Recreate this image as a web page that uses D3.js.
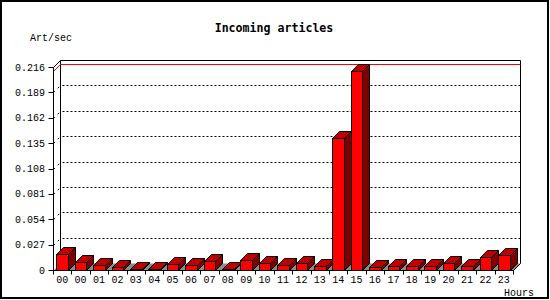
<!DOCTYPE html>
<html>
<head>
<meta charset="utf-8">
<script src="https://cdn.jsdelivr.net/npm/d3@7"></script>
<style>
  body { margin: 0; background: #fff; }
  text { font-family: "Liberation Mono", "DejaVu Sans Mono", monospace; fill: #000; }
</style>
</head>
<body>
<svg id="chart" width="550" height="300"></svg>
<script>
const svg = d3.select("#chart");

// hours as printed under the bars (the first hour shows up twice)
const hours = ["00", "00", "01", "02", "03", "04", "05", "06", "07", "08", "09", "10",
  "11", "12", "13", "14", "15", "16", "17", "18", "19", "20", "21", "22", "23"];
// articles per second
const rates = [0.0167, 0.0082, 0.0050, 0.0030, 0.0014, 0.0014, 0.0064, 0.0050, 0.0092,
  0.0014, 0.0106, 0.0071, 0.0050, 0.0071, 0.0043, 0.140, 0.2115, 0.0028, 0.0043,
  0.0043, 0.0043, 0.0074, 0.0043, 0.0135, 0.0156];
const yTicks = [0, 0.027, 0.054, 0.081, 0.108, 0.135, 0.162, 0.189, 0.216];
const yTickLabels = ["0", "0.027", "0.054", "0.081", "0.108", "0.135", "0.162", "0.189", "0.216"];

const DEPTH = 7;       // 3d offset, x to the right and y up
const LEFT = 53;
const RIGHT = 513;
const BOTTOM = 270;
const TOP = 67;

const idx = hours.map((h, i) => i);
const slot = d3.scaleBand().domain(idx).range([LEFT, RIGHT]);
const bar = d3.scaleBand().domain(idx).range([LEFT, RIGHT])
  .paddingInner(0.38).paddingOuter(0.19);
const y = d3.scaleLinear().domain([0, d3.max(yTicks)]).range([BOTTOM, TOP]);

// snap to the pixel grid so 1px lines stay sharp
const px = v => Math.round(v) + 0.5;
const B = px(BOTTOM), L = px(LEFT), R = px(RIGHT);

// outer border
svg.append("rect")
  .attr("x", 1).attr("y", 1).attr("width", 547).attr("height", 297)
  .attr("fill", "#fff").attr("stroke", "#000").attr("stroke-width", 2);

svg.append("text")
  .attr("x", 274).attr("y", 32)
  .attr("text-anchor", "middle")
  .style("font-family", "DejaVu Sans Mono")
  .style("font-size", "11.6px").style("font-weight", "bold")
  .text("Incoming articles");

svg.append("text")
  .attr("x", 30).attr("y", 41)
  .style("font-size", "10px")
  .text("Art/sec");

// back wall
const backTop = px(y(d3.max(yTicks))) - DEPTH;
const backBottom = B - DEPTH;
svg.append("path")
  .attr("d", `M${L + DEPTH},${backBottom}V${backTop}H${R + DEPTH}V${backBottom}`)
  .attr("fill", "none").attr("stroke", "#000");

// dotted grid on the back wall, and the side wall diagonals
const grid = yTicks.slice(1, -1);
svg.append("g").selectAll("line").data(grid).join("line")
  .attr("x1", L + DEPTH + 2).attr("x2", R + DEPTH)
  .attr("y1", d => px(y(d)) - DEPTH)
  .attr("y2", d => px(y(d)) - DEPTH)
  .attr("stroke", "#000").attr("stroke-dasharray", "2,2");
svg.append("g").selectAll("line").data(grid).join("line")
  .attr("x1", L).attr("x2", L + DEPTH)
  .attr("y1", d => px(y(d))).attr("y2", d => px(y(d)) - DEPTH)
  .attr("stroke", "#000").attr("stroke-dasharray", "2,4");

// floor
svg.append("path")
  .attr("d", `M${L},${B}L${L + DEPTH},${backBottom}H${R + DEPTH}L${R},${B}Z`)
  .attr("fill", "#8c8c8c");
svg.append("line")
  .attr("x1", R).attr("y1", B).attr("x2", R + DEPTH).attr("y2", backBottom)
  .attr("stroke", "#000");

// red line at the maximum
const yMax = px(y(d3.max(rates)));
svg.append("path")
  .attr("d", `M${L},${yMax}L${L + DEPTH},${yMax - DEPTH}H${R + DEPTH}`)
  .attr("fill", "none").attr("stroke", "#f00");

// bars
const bx0 = i => px(bar(i));
const bx1 = i => px(bar(i) + bar.bandwidth());
const by = i => px(y(rates[i]));
const bars = svg.append("g").selectAll("g").data(idx).join("g");
bars.append("path")
  .attr("d", i => `M${bx0(i)},${by(i)}L${bx0(i) + DEPTH},${by(i) - DEPTH}H${bx1(i) + DEPTH}L${bx1(i)},${by(i)}Z`)
  .attr("fill", "#c00000").attr("stroke", "#000");
bars.append("path")
  .attr("d", i => `M${bx1(i)},${B}L${bx1(i) + DEPTH},${B - DEPTH}V${by(i) - DEPTH}L${bx1(i)},${by(i)}Z`)
  .attr("fill", "#800000").attr("stroke", "#000");
bars.append("rect")
  .attr("x", bx0)
  .attr("y", by)
  .attr("width", i => bx1(i) - bx0(i))
  .attr("height", i => B - by(i))
  .attr("fill", "#f00").attr("stroke", "#000");

// front axes
svg.append("path")
  .attr("d", `M${L + DEPTH},${px(TOP) - DEPTH}L${L},${px(TOP)}V${B}H${R}`)
  .attr("fill", "none").attr("stroke", "#000");

svg.append("g").selectAll("line").data(yTicks).join("line")
  .attr("x1", L - 5).attr("x2", L)
  .attr("y1", d => px(y(d))).attr("y2", d => px(y(d)))
  .attr("stroke", "#000");
svg.append("g").selectAll("text").data(yTicks).join("text")
  .attr("x", LEFT - 8).attr("y", d => y(d))
  .attr("dy", "0.36em")
  .attr("text-anchor", "end")
  .style("font-size", "10px")
  .text((d, i) => yTickLabels[i]);

const bounds = idx.map(i => slot(i)).concat([RIGHT]);
svg.append("g").selectAll("line").data(bounds).join("line")
  .attr("x1", d => px(d)).attr("x2", d => px(d))
  .attr("y1", B).attr("y2", B + 4)
  .attr("stroke", "#000");
svg.append("g").selectAll("text").data(idx).join("text")
  .attr("x", i => slot(i) + slot.bandwidth() / 2)
  .attr("y", 283)
  .attr("text-anchor", "middle")
  .style("font-size", "10px")
  .text(i => hours[i]);

svg.append("text")
  .attr("x", 534).attr("y", 296)
  .attr("text-anchor", "end")
  .style("font-size", "10px")
  .text("Hours");
</script>
</body>
</html>
